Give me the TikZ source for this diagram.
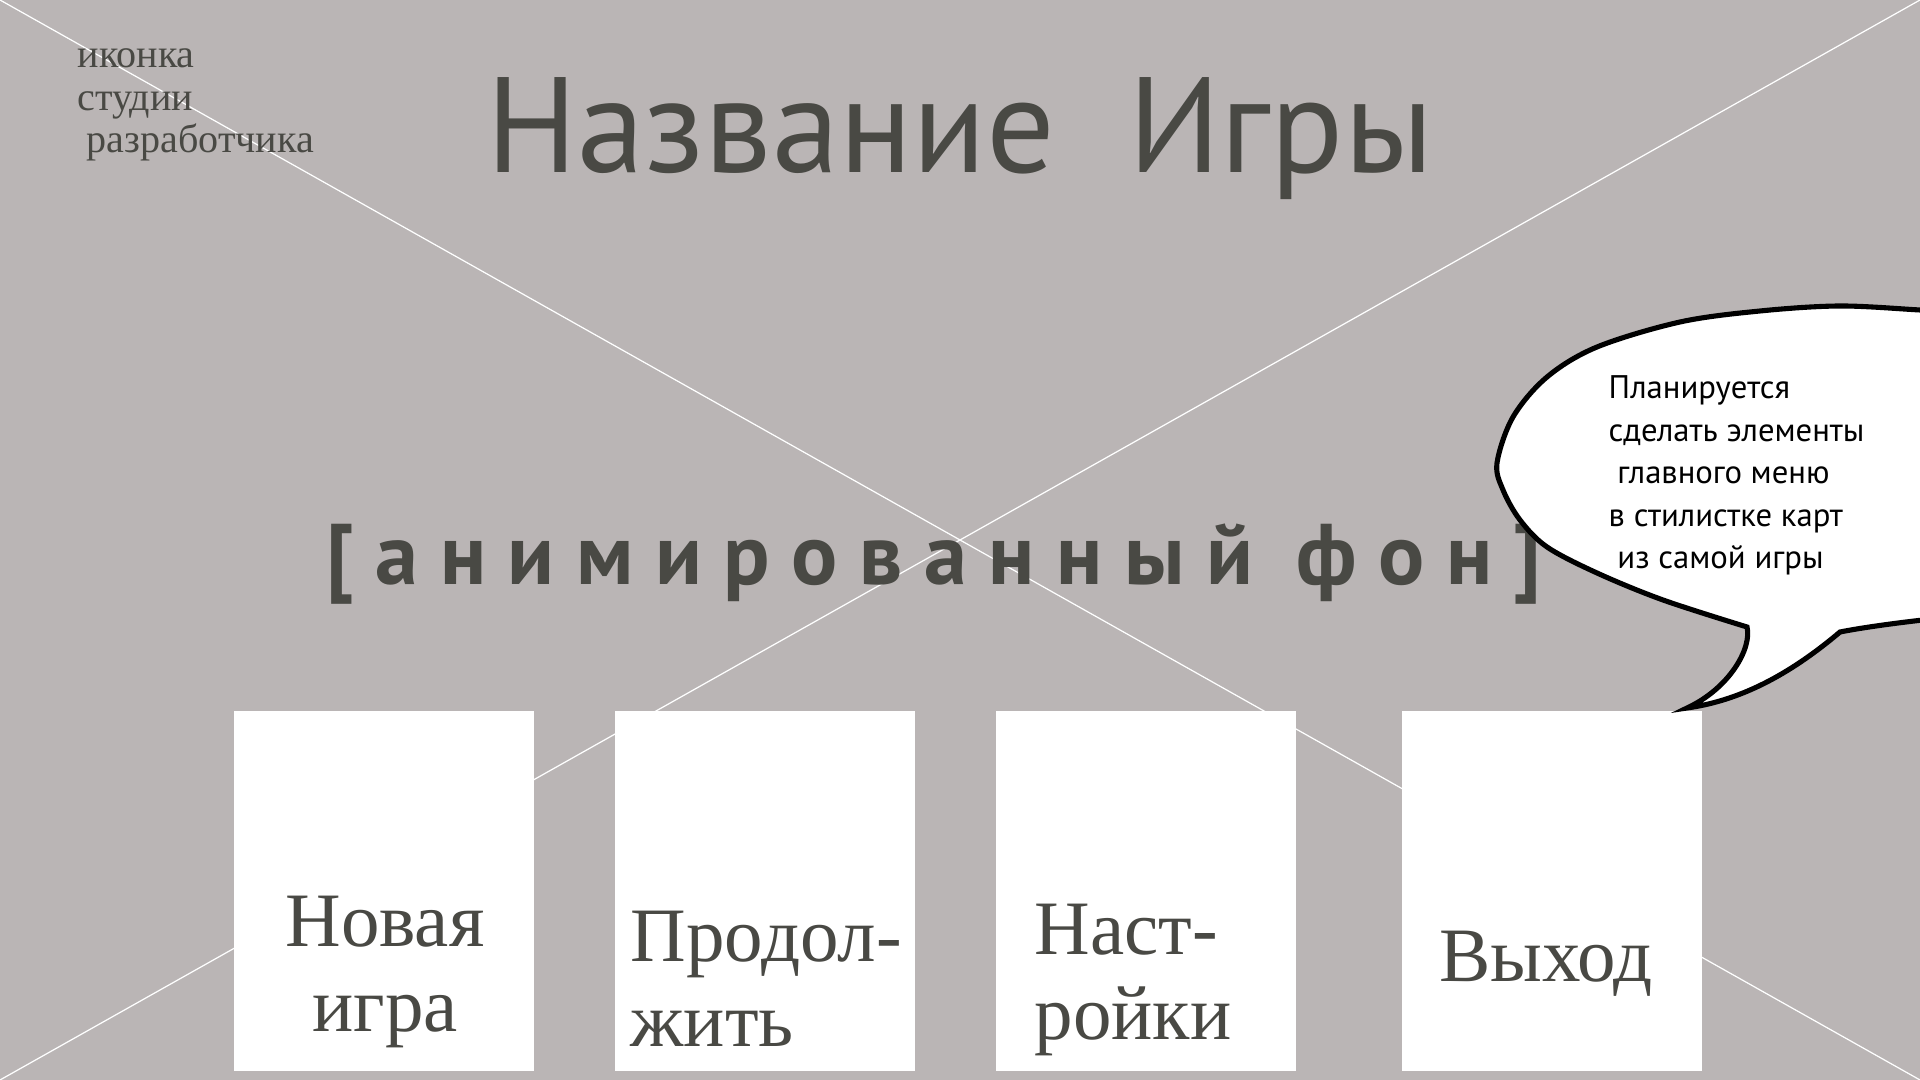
\documentclass[tikz,border=0pt]{standalone}
\usepackage{fontspec}
\setmainfont{Liberation Serif}
\newfontfamily\menusans{PT Sans}
\newfontfamily\spacedsans[LetterSpace=25]{PT Sans}
\usetikzlibrary{positioning}

\definecolor{slide}{RGB}{186,181,181}
\definecolor{ink}{RGB}{73,73,68}

\begin{document}
\begin{tikzpicture}[
    card/.style={fill=white, inner sep=0pt, minimum width=3cm, minimum height=3.6cm},
    cardtext/.style={text=ink, inner sep=0pt, font=\fontsize{21.9}{24.2}\selectfont},
    studio/.style={text=ink, inner sep=0pt, anchor=base west, font=\fontsize{11.4}{12.2}\selectfont},
    diag/.style={white, line width=0.35pt}
]
    % Background
    \fill[slide] (0,0) rectangle (19.2,10.8);
    \useasboundingbox (0,0) rectangle (19.2,10.8);
    \coordinate (cornerNW) at (0,10.8);
    \coordinate (cornerNE) at (19.2,10.8);
    \coordinate (cornerSW) at (0,0);
    \coordinate (cornerSE) at (19.2,0);
    \draw[diag] (cornerNW) -- (cornerSE);
    \draw[diag] (cornerNE) -- (cornerSW);

    % Studio icon placeholder
    \node (studio1) [studio] at (0.77,10.12) {иконка};
    \node (studio2) [studio] at (0.77,9.69) {студии};
    \node (studio3) [studio] at (0.86,9.27) {разработчика};

    % Title
    \node (title) [text=ink, inner sep=0pt, anchor=base, font=\menusans\fontsize{38.6}{40}\selectfont] at (9.6,9.07) {Название\ \ Игры};

    % Animated background
    \node (animbg) [text=ink, inner sep=0pt, anchor=base, font=\spacedsans\bfseries\fontsize{24.5}{26}\selectfont] at (9.34,4.95) {[анимированный фон]};

    % Menu cards
    \node (newgame) [card] at (3.84,1.89) {};
    \node (resume) [card] at (7.65,1.89) {};
    \node (settings) [card] at (11.46,1.89) {};
    \node (quit) [card] at (15.52,1.89) {};

    \node (newgametext) [cardtext, align=center, anchor=north] at (3.85,1.85) {Новая\\игра};
    \node (resumetext) [cardtext, align=left, anchor=north west] at (6.30,1.70) {Продол-\\жить};
    \node (settingstext) [cardtext, align=left, anchor=north west] at (10.34,1.77) {Наст-\\ройки};
    \node (quittext) [cardtext, anchor=north] at (15.46,1.50) {Выход};

    % Speech bubble
    \draw[fill=white, line width=1.45pt]
        plot[smooth, tension=0.55] coordinates {(19.6,7.68) (19.2,7.70) (18.4,7.74) (17.6,7.69) (16.80,7.58) (15.97,7.33) (15.47,7.03) (15.13,6.63) (14.97,6.17) (15.03,5.90) (15.20,5.60) (15.47,5.33) (15.97,5.07) (16.63,4.80) (17.47,4.53)}
        .. controls (17.52,4.32) and (17.30,3.92) .. (16.87,3.72)
        .. controls (17.45,3.80) and (17.95,4.10) .. (18.40,4.48)
        .. controls (18.6,4.52) and (19.0,4.58) .. (19.6,4.64) -- cycle;
    \node (plan) [inner sep=0pt, align=left, anchor=north west, font=\menusans\fontsize{9.3}{12.1}\selectfont] at (16.08,7.05) {Планируется\\сделать элементы\\\ главного меню\\в стилистке карт\\\ из самой игры};
\end{tikzpicture}
\end{document}
